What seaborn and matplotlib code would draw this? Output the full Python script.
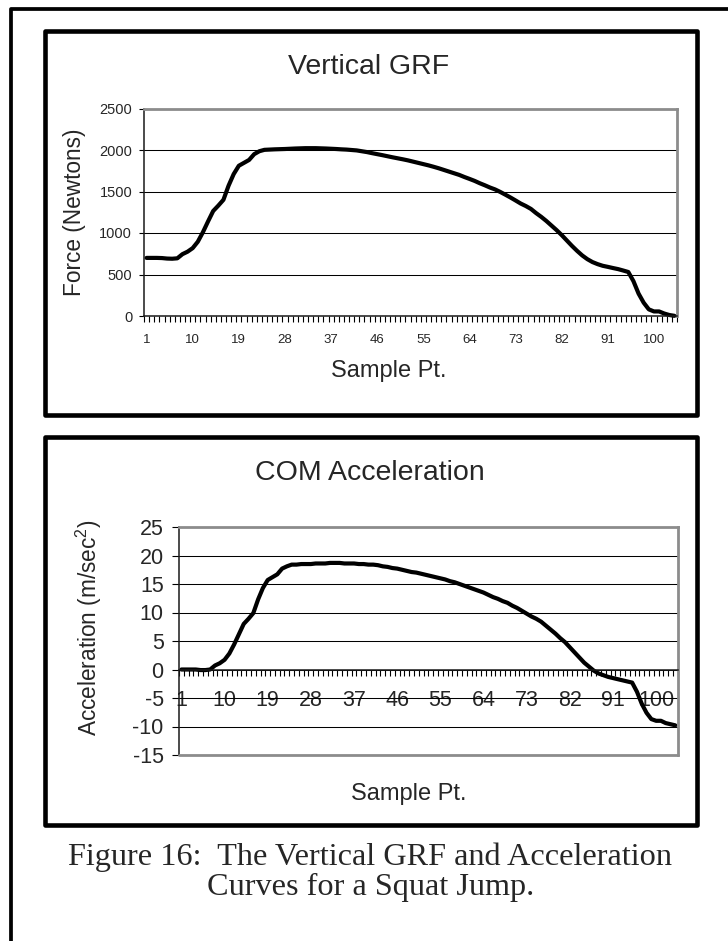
import matplotlib
matplotlib.use('Agg')
import matplotlib.pyplot as plt
from matplotlib import font_manager
from matplotlib.patches import Rectangle
from matplotlib.lines import Line2D
import seaborn as sns

# Data (one value per sample point)
sample_pt = list(range(1, 105))
force_n = [
    700, 700, 700, 698, 692, 690, 695, 745, 775, 818,
    895, 1010, 1140, 1265, 1330, 1400, 1570, 1710, 1810, 1845,
    1880, 1950, 1985, 2002, 2005, 2008, 2010, 2012, 2015, 2018,
    2020, 2022, 2022, 2022, 2020, 2018, 2015, 2012, 2008, 2005,
    2000, 1995, 1985, 1975, 1962, 1950, 1938, 1925, 1912, 1900,
    1888, 1875, 1860, 1845, 1830, 1815, 1798, 1780, 1760, 1740,
    1720, 1700, 1675, 1652, 1628, 1600, 1575, 1548, 1525, 1495,
    1462, 1428, 1392, 1355, 1325, 1290, 1240, 1195, 1145, 1090,
    1035, 975, 910, 845, 785, 730, 685, 650, 625, 605,
    592, 578, 565, 548, 530, 420, 270, 160, 80, 55,
    55, 30, 12, 2,
]
accel = [
    0.0, 0.0, 0.0, 0.0, -0.1, -0.1, 0.0, 0.7, 1.1, 1.7,
    2.8, 4.4, 6.2, 8.0, 8.9, 9.9, 12.3, 14.3, 15.7, 16.2,
    16.7, 17.7, 18.1, 18.4, 18.4, 18.5, 18.5, 18.5, 18.6, 18.6,
    18.6, 18.7, 18.7, 18.7, 18.6, 18.6, 18.6, 18.5, 18.5, 18.4,
    18.4, 18.3, 18.1, 18.0, 17.8, 17.7, 17.5, 17.3, 17.1, 17.0,
    16.8, 16.6, 16.4, 16.2, 16.0, 15.8, 15.5, 15.3, 15.0, 14.7,
    14.4, 14.1, 13.8, 13.5, 13.1, 12.7, 12.4, 12.0, 11.7, 11.2,
    10.8, 10.3, 9.8, 9.3, 8.9, 8.4, 7.7, 7.0, 6.3, 5.5,
    4.8, 3.9, 3.0, 2.1, 1.2, 0.5, -0.2, -0.7, -1.0, -1.3,
    -1.5, -1.7, -1.9, -2.1, -2.3, -3.9, -6.0, -7.6, -8.7, -9.0,
    -9.0, -9.4, -9.6, -9.8,
]
tick_pts = [1, 10, 19, 28, 37, 46, 55, 64, 73, 82, 91, 100]
force_ticks = [0, 500, 1000, 1500, 2000, 2500]
accel_ticks = [-15, -10, -5, 0, 5, 10, 15, 20, 25]

sns.set_style('white')
plt.rcParams['font.family'] = ['Liberation Sans', 'DejaVu Sans']
plt.rcParams['axes.unicode_minus'] = False
plt.rcParams['mathtext.fontset'] = 'custom'
plt.rcParams['mathtext.rm'] = 'Liberation Sans'

installed = {f.name for f in font_manager.fontManager.ttflist}
narrow = 'Liberation Sans Narrow' if 'Liberation Sans Narrow' in installed else None

W, H = 728, 941
fig = plt.figure(figsize=(W / 100, H / 100), dpi=100)
fig.patch.set_facecolor('white')


def fx(x):
    return x / W


def fy(y):
    return 1 - y / H


def style_axes(ax, yticks, ytick_size, ypad, ylen, xtick_size, xpad):
    ax.set_xlim(0.5, len(sample_pt) + 0.5)
    ax.set_ylim(yticks[0], yticks[-1])
    ax.set_yticks(yticks)
    ax.set_yticklabels([str(t) for t in yticks])
    ax.set_xticks(tick_pts)
    ax.set_xticklabels([str(t) for t in tick_pts])
    # tick marks sit on the category boundaries, labels on the categories
    ax.set_xticks([p - 0.5 for p in sample_pt] + [sample_pt[-1] + 0.5], minor=True)
    ax.grid(axis='y', color='black', linewidth=0.75)
    ax.grid(axis='x', visible=False)
    ax.set_axisbelow(True)
    ax.tick_params(axis='x', which='both', bottom=True)
    ax.tick_params(axis='x', which='major', length=0, pad=xpad, labelsize=xtick_size)
    ax.tick_params(axis='x', which='minor', length=4, width=0.8, color='black', direction='out')
    ax.tick_params(axis='y', which='major', left=True, length=ylen, width=0.8,
                   color='black', direction='out', pad=ypad, labelsize=ytick_size)
    for side in ['top', 'right']:
        ax.spines[side].set_color('#8c8c8c')
        ax.spines[side].set_linewidth(2.0)
    for side in ['left', 'bottom']:
        ax.spines[side].set_color('#1a1a1a')
        ax.spines[side].set_linewidth(1.1)


# ---- Panel 1: Vertical GRF
ax1 = fig.add_axes([fx(144), fy(316), fx(677) - fx(144), fy(108.5) - fy(316)])
sns.lineplot(x=sample_pt, y=force_n, ax=ax1, color='black', linewidth=3,
             legend=False, clip_on=False, solid_joinstyle='round')
if narrow:
    style_axes(ax1, force_ticks, 10.5, 5, 3.5, 10.5, 13)
    ax1.tick_params(axis='x', labelfontfamily=narrow)
else:
    style_axes(ax1, force_ticks, 10.5, 5, 3.5, 9.5, 13)
ax1.set_title('Vertical GRF', fontsize=20.5, pad=0,
              x=(369 - 144) / 533, y=(316 - 74) / 207.5)
ax1.set_xlabel('Sample Pt.', fontsize=17)
ax1.xaxis.set_label_coords(fx(388.5), fy(377), transform=fig.transFigure)
ax1.xaxis.label.set_va('baseline')
ax1.set_ylabel('Force (Newtons)', fontsize=16.3)
ax1.yaxis.set_label_coords(fx(75), fy(212), transform=fig.transFigure)
ax1.yaxis.label.set_va('center')

# ---- Panel 2: COM Acceleration
ax2 = fig.add_axes([fx(179), fy(755), fx(677.7) - fx(179), fy(527) - fy(755)])
sns.lineplot(x=sample_pt, y=accel, ax=ax2, color='black', linewidth=3,
             legend=False, clip_on=False, solid_joinstyle='round')
style_axes(ax2, accel_ticks, 15.5, 6, 5, 15.5, 15)
ax2.spines['bottom'].set_position(('data', 0))
ax2.axhline(accel_ticks[0], color='#8c8c8c', linewidth=2.0, clip_on=False, zorder=3)
ax2.set_title('COM Acceleration', fontsize=20.5, pad=0,
              x=(369.5 - 179) / 498.7, y=(755 - 480) / 228)
ax2.set_xlabel('Sample Pt.', fontsize=17)
ax2.xaxis.set_label_coords(fx(408.5), fy(800), transform=fig.transFigure)
ax2.xaxis.label.set_va('baseline')
ax2.set_ylabel('Acceleration (m/sec$^\\mathrm{2}$)', fontsize=16.3)
ax2.yaxis.set_label_coords(fx(89), fy(628), transform=fig.transFigure)
ax2.yaxis.label.set_va('center')

# ---- Frames around the panels and the page
for top, bottom in [(31, 415), (437, 825)]:
    box = Rectangle((fx(45), fy(bottom)), fx(697) - fx(45), fy(top) - fy(bottom),
                    transform=fig.transFigure, fill=False, edgecolor='black',
                    linewidth=3.3, joinstyle='round')
    fig.add_artist(box)
fig.add_artist(Line2D([fx(11), fx(11), 1.0], [0.0, fy(9), fy(9)],
                      transform=fig.transFigure, color='black', linewidth=2.7))

# ---- Caption
fig.text(fx(370.5), fy(865), 'Figure 16:  The Vertical GRF and Acceleration',
         ha='center', va='baseline', fontsize=23.2, family=['Liberation Serif'])
fig.text(fx(370.5), fy(895), 'Curves for a Squat Jump.',
         ha='center', va='baseline', fontsize=23.2, family=['Liberation Serif'])

fig.savefig('out.png', dpi=100, facecolor='white')
